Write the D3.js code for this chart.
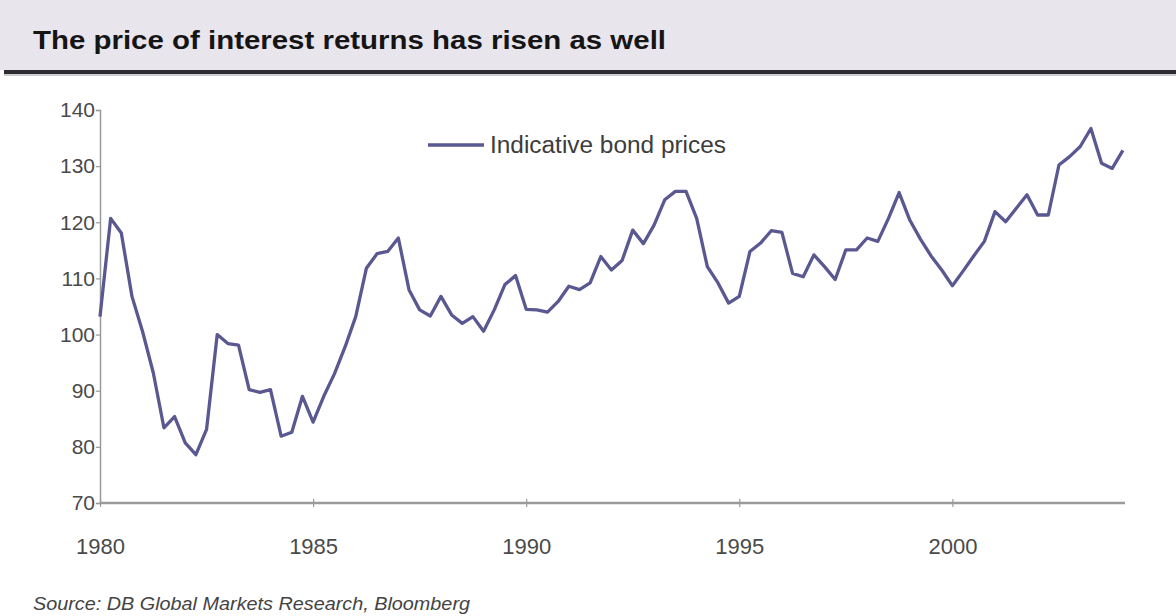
<!DOCTYPE html>
<html>
<head>
<meta charset="utf-8">
<script src="https://cdn.jsdelivr.net/npm/d3@7"></script>
<style>
  html, body { margin: 0; padding: 0; background: #ffffff; }
  svg { display: block; }
</style>
</head>
<body>
<svg id="chart" width="1176" height="616"></svg>
<script>
// Quarterly indicative bond price index, 1980 Q1 – 2004 Q1
const startYear = 1980;
const quarterStep = 0.25;
const bondPrices = [
  103.2, 120.7, 118.1, 106.8,
  100.5,  93.2,  83.4,  85.4,
   80.7,  78.6,  83.1, 100.0,
   98.4,  98.1,  90.2,  89.7,
   90.2,  81.9,  82.6,  89.0,
   84.4,  89.0,  93.0,  97.8,
  103.2, 111.8, 114.4, 114.8,
  117.2, 108.0, 104.4, 103.3,
  106.8, 103.5, 102.0, 103.2,
  100.6, 104.4, 108.9, 110.5,
  104.5, 104.4, 104.0, 105.9,
  108.6, 108.0, 109.2, 113.9,
  111.5, 113.2, 118.6, 116.2,
  119.5, 124.0, 125.5, 125.5,
  120.7, 112.1, 109.2, 105.6,
  106.8, 114.8, 116.3, 118.5,
  118.2, 110.9, 110.3, 114.2,
  112.1, 109.8, 115.1, 115.1,
  117.2, 116.6, 120.7, 125.3,
  120.4, 117.0, 114.0, 111.5,
  108.7, 111.3, 114.0, 116.6,
  121.9, 120.1, 122.5, 124.9,
  121.3, 121.3, 130.2, 131.7,
  133.5, 136.7, 130.5, 129.6,
  132.8
];
const yTicks = [70, 80, 90, 100, 110, 120, 130, 140];
const xTicks = [1980, 1985, 1990, 1995, 2000];
const seriesName = "Indicative bond prices";
const titleText = "The price of interest returns has risen as well";
const sourceText = "Source: DB Global Markets Research, Bloomberg";

const data = bondPrices.map((v, i) => ({ t: startYear + i * quarterStep, v }));

const svg = d3.select("#chart");
const W = 1176;
const font = "Liberation Sans, Arial, sans-serif";

// Title band with heavy rule underneath
svg.append("rect").attr("x", 0).attr("y", 0).attr("width", W).attr("height", 70)
  .attr("fill", "#e8e5ed");
svg.append("rect").attr("x", 4).attr("y", 70).attr("width", W - 4).attr("height", 4)
  .attr("fill", "#2e2d33");
svg.append("rect").attr("x", 4).attr("y", 74).attr("width", W - 4).attr("height", 2)
  .attr("fill", "#cfcdd4");
svg.append("text").attr("x", 33).attr("y", 49)
  .attr("font-family", font)
  .attr("font-weight", "bold").attr("font-size", 26)
  .attr("textLength", 633).attr("lengthAdjust", "spacingAndGlyphs")
  .attr("fill", "#151515").text(titleText);

// Scales
const margin = { left: 100, right: 1125, top: 110, bottom: 503 };
const x = d3.scaleLinear().domain([1980, 2004.05]).range([margin.left, margin.right]);
const y = d3.scaleLinear().domain([70, 140]).range([margin.bottom, margin.top]);

const axisColor = "#9a9a9a";
const labelColor = "#4a4a4a";

// Y axis
const yAxis = svg.append("g").attr("transform", `translate(${margin.left},0)`)
  .call(d3.axisLeft(y).tickValues(yTicks).tickSize(4).tickPadding(1).tickFormat(d3.format("d")));
yAxis.select(".domain").attr("stroke", axisColor).attr("stroke-width", 1.5);
yAxis.selectAll(".tick line").attr("stroke", axisColor).attr("stroke-width", 1.2);
yAxis.selectAll(".tick text").attr("fill", labelColor).attr("font-family", font).attr("font-size", 21);

// X axis
const xAxis = svg.append("g").attr("transform", `translate(0,${margin.bottom})`)
  .call(d3.axisBottom(x).tickValues(xTicks).tickSize(5).tickPadding(30).tickFormat(d3.format("d")));
xAxis.select(".domain").attr("stroke", axisColor).attr("stroke-width", 2.5)
  .attr("d", `M${margin.left},0H${margin.right}`);
xAxis.selectAll(".tick line").attr("stroke", axisColor).attr("stroke-width", 1.2)
  .attr("y1", -4).attr("y2", 4);
xAxis.selectAll(".tick text").attr("fill", labelColor).attr("font-family", font).attr("font-size", 22);

// Series line
const lineColor = "#5a5891";
const line = d3.line().x(d => x(d.t)).y(d => y(d.v));
svg.append("path").datum(data)
  .attr("d", line)
  .attr("fill", "none")
  .attr("stroke", lineColor)
  .attr("stroke-width", 3.3)
  .attr("stroke-linejoin", "round");

// Legend
svg.append("line").attr("x1", 428).attr("x2", 484).attr("y1", 145).attr("y2", 145)
  .attr("stroke", lineColor).attr("stroke-width", 3.3);
svg.append("text").attr("x", 490).attr("y", 153)
  .attr("font-family", font).attr("font-size", 23).attr("fill", "#3c3c3c")
  .attr("textLength", 236).attr("lengthAdjust", "spacingAndGlyphs")
  .text(seriesName);

// Source note
svg.append("text").attr("x", 33).attr("y", 610)
  .attr("font-family", font).attr("font-style", "italic").attr("font-size", 19)
  .attr("textLength", 437).attr("lengthAdjust", "spacingAndGlyphs")
  .attr("fill", "#444").text(sourceText);
</script>
</body>
</html>
